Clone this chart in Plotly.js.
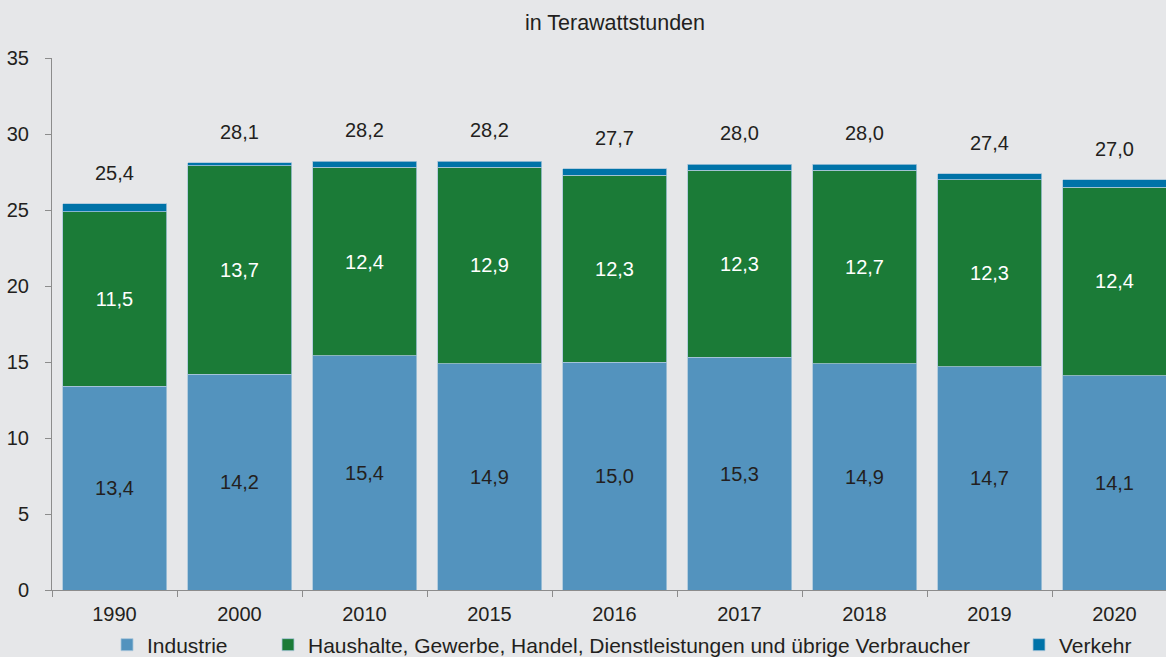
<!DOCTYPE html>
<html>
<head>
<meta charset="utf-8">
<script src="https://cdn.plot.ly/plotly-3.0.1.min.js"></script>
<style>html,body{margin:0;padding:0;background:#e6e7e9;}#chart{width:1166px;height:657px;}</style>
</head>
<body>
<div id="chart"></div>
<script>
const years = ['1990','2000','2010','2015','2016','2017','2018','2019','2020'];
const industrie = [13.4, 14.2, 15.4, 14.9, 15.0, 15.3, 14.9, 14.7, 14.1];
const haushalte = [11.5, 13.7, 12.4, 12.9, 12.3, 12.3, 12.7, 12.3, 12.4];
const verkehr = [0.5, 0.2, 0.4, 0.4, 0.4, 0.4, 0.4, 0.4, 0.5];
const totals = [25.4, 28.1, 28.2, 28.2, 27.7, 28.0, 28.0, 27.4, 27.0];
const seriesNames = ['Industrie', 'Haushalte, Gewerbe, Handel, Dienstleistungen und übrige Verbraucher', 'Verkehr'];
const yTicks = [0, 5, 10, 15, 20, 25, 30, 35];
const titleText = 'in Terawattstunden';

const FONT = 'Liberation Sans, Arial, sans-serif';
const TXT = '#231f20';
const edge = {color: '#a8c6da', width: 0.8};

const traces = [
  {type:'bar', name: seriesNames[0], x: years, y: industrie, legend:'legend',
   marker:{color:'#5393be', line: edge},
   texttemplate:'%{y:.1f}', textposition:'inside', insidetextanchor:'middle', textangle:0,
   textfont:{family:FONT, size:20, color:TXT}, hoverinfo:'none'},
  {type:'bar', name: seriesNames[1], x: years, y: haushalte, legend:'legend2',
   marker:{color:'#1b7b37', line: edge},
   texttemplate:'%{y:.1f}', textposition:'inside', insidetextanchor:'middle', textangle:0,
   textfont:{family:FONT, size:20, color:'#ffffff'}, hoverinfo:'none'},
  {type:'bar', name: seriesNames[2], x: years, y: verkehr, legend:'legend3',
   marker:{color:'#0073a8', line: edge},
   textposition:'none', hoverinfo:'none'}
];

const annotations = years.map((yr, i) => ({
  x: i, y: totals[i], xref:'x', yref:'y',
  text: totals[i].toFixed(1).replace('.', ','),
  showarrow:false, xanchor:'center', yanchor:'middle', yshift:31,
  font:{family:FONT, size:20, color:TXT}
}));

const legendBase = {orientation:'h', yref:'container', y: 1 - 645/657, yanchor:'middle',
  xref:'container', xanchor:'left', bgcolor:'rgba(0,0,0,0)', borderwidth:0,
  font:{family:FONT, size:21, color:TXT}, itemclick:false, itemdoubleclick:false};

const layout = {
  width:1166, height:657,
  paper_bgcolor:'#e6e7e9', plot_bgcolor:'#e6e7e9',
  separators:',.',
  barmode:'stack', bargap:0.168,
  margin:{l:52, r:0, t:58, b:67, pad:0},
  font:{family:FONT, size:20, color:TXT},
  title:{text:titleText, font:{family:FONT, size:21.5, color:TXT},
         xref:'container', x:615/1166, xanchor:'center',
         yref:'container', y:1 - 22/657, yanchor:'middle'},
  xaxis:{type:'category', range:[-0.5, 8.412], showgrid:false, zeroline:false,
         showline:true, linecolor:'#8c8c8c', linewidth:1,
         ticks:'outside', tickson:'boundaries', ticklen:6, tickcolor:'#8c8c8c',
         ticklabelstandoff:6,
         tickfont:{family:FONT, size:20, color:TXT}, fixedrange:true},
  yaxis:{range:[0,35], tickvals:yTicks, ticktext:yTicks.map(String), showgrid:false, zeroline:false,
         showline:true, linecolor:'#8c8c8c', linewidth:1,
         ticks:'outside', ticklen:6, tickcolor:'#8c8c8c', ticklabelstandoff:12,
         tickfont:{family:FONT, size:20, color:TXT}, fixedrange:true},
  showlegend:true,
  legend: Object.assign({}, legendBase, {x:(126-19)/1166}),
  legend2: Object.assign({}, legendBase, {x:(287-19)/1166}),
  legend3: Object.assign({}, legendBase, {x:(1038-19)/1166}),
  annotations: annotations
};

Plotly.newPlot('chart', traces, layout, {displayModeBar:false, staticPlot:true});
</script>
</body>
</html>
